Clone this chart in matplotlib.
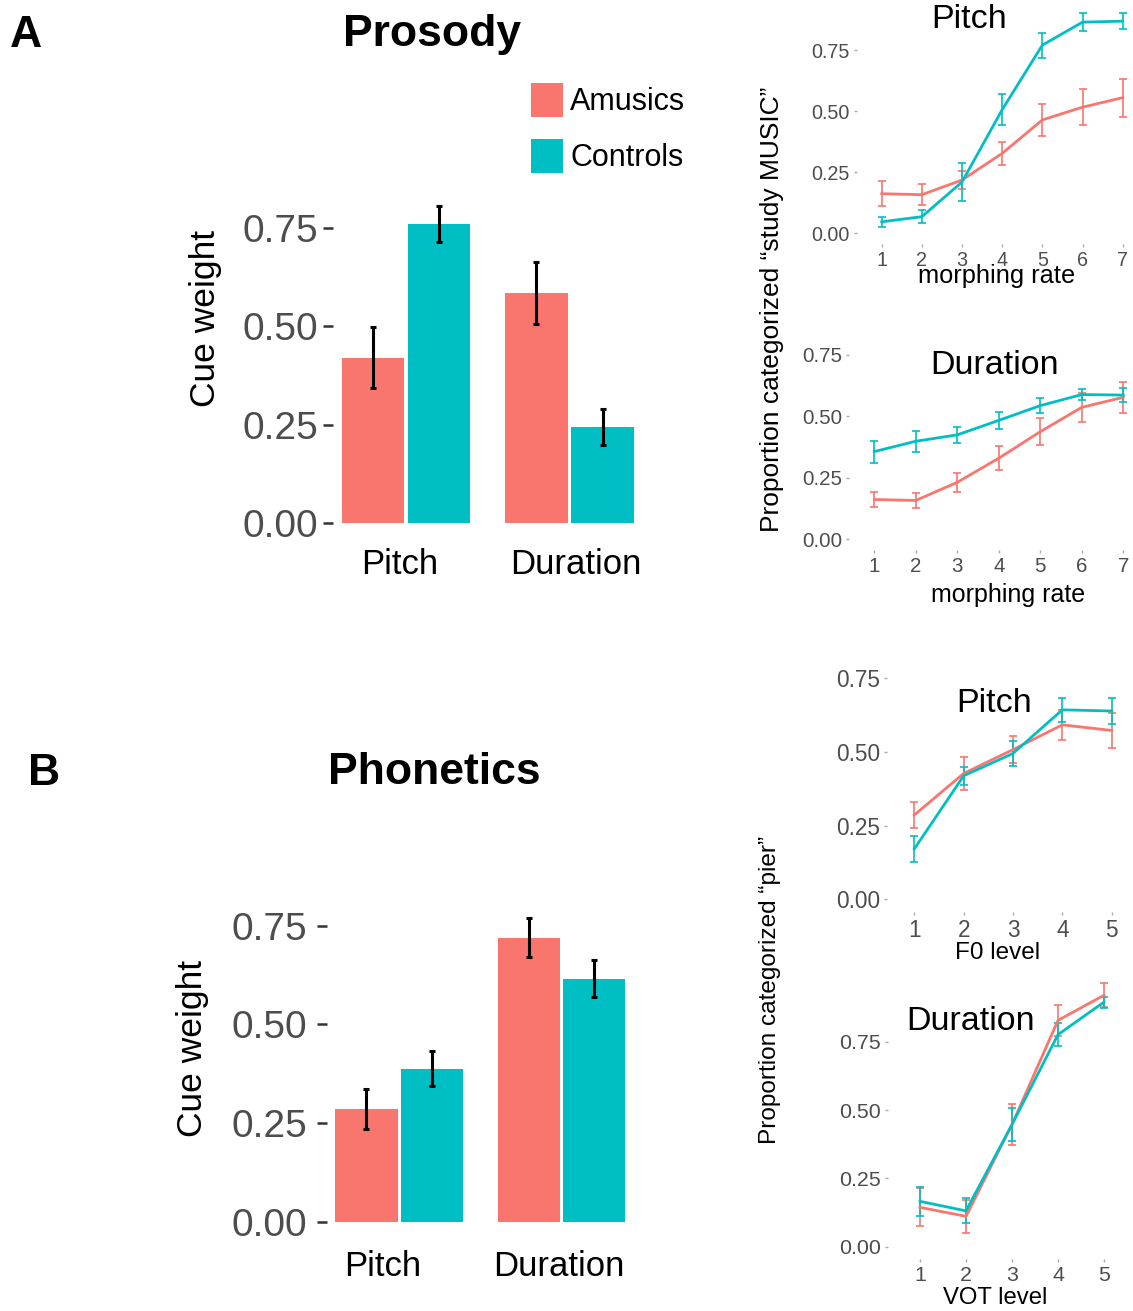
import numpy as np
import matplotlib.pyplot as plt

plt.rcParams['font.family'] = ['Liberation Sans', 'DejaVu Sans']

W, H = 1133, 1311
RED = '#F8766D'
TEAL = '#00BFC4'
GREY = '#4D4D4D'

groups = ['Amusics', 'Controls']
cues = ['Pitch', 'Duration']
ticks = [0.0, 0.25, 0.5, 0.75]
tick_labels = ['0.00', '0.25', '0.50', '0.75']

# bar charts: cue weights (Pitch, Duration), mean and half error bar
pros_amus = [0.420, 0.585]
pros_amus_se = [0.078, 0.078]
pros_ctrl = [0.760, 0.245]
pros_ctrl_se = [0.045, 0.046]

phon_amus = [0.285, 0.720]
phon_amus_se = [0.050, 0.050]
phon_ctrl = [0.388, 0.616]
phon_ctrl_se = [0.045, 0.046]

# categorisation curves
morph = [1, 2, 3, 4, 5, 6, 7]
ap_amus = [0.162, 0.158, 0.218, 0.327, 0.464, 0.516, 0.555]
ap_amus_se = [0.050, 0.043, 0.035, 0.048, 0.067, 0.073, 0.078]
ap_ctrl = [0.047, 0.068, 0.210, 0.506, 0.770, 0.864, 0.868]
ap_ctrl_se = [0.020, 0.027, 0.078, 0.063, 0.051, 0.037, 0.034]

ad_amus = [0.162, 0.158, 0.232, 0.330, 0.438, 0.537, 0.578]
ad_amus_se = [0.032, 0.032, 0.038, 0.048, 0.054, 0.058, 0.063]
ad_ctrl = [0.357, 0.399, 0.425, 0.484, 0.544, 0.589, 0.587]
ad_ctrl_se = [0.045, 0.042, 0.034, 0.035, 0.031, 0.022, 0.027]

levels = [1, 2, 3, 4, 5]
bp_amus = [0.286, 0.427, 0.508, 0.592, 0.573]
bp_amus_se = [0.045, 0.056, 0.046, 0.051, 0.058]
bp_ctrl = [0.171, 0.419, 0.495, 0.643, 0.639]
bp_ctrl_se = [0.043, 0.031, 0.043, 0.040, 0.045]

bd_amus = [0.144, 0.111, 0.447, 0.828, 0.920]
bd_amus_se = [0.069, 0.060, 0.075, 0.057, 0.044]
bd_ctrl = [0.166, 0.131, 0.447, 0.776, 0.895]
bd_ctrl_se = [0.054, 0.046, 0.059, 0.042, 0.020]


def add_ax(fig, box, xref, yref):
    # box = (left, top, right, bottom) in pixels, refs = (px_a, val_a, px_b, val_b)
    left, top, right, bottom = box
    ax = fig.add_axes([left / W, 1 - bottom / H, (right - left) / W, (bottom - top) / H])
    def lin(ref, p):
        pa, va, pb, vb = ref
        return va + (p - pa) * (vb - va) / (pb - pa)
    ax.set_xlim(lin(xref, left), lin(xref, right))
    ax.set_ylim(lin(yref, bottom), lin(yref, top))
    for s in ax.spines.values():
        s.set_visible(False)
    return ax


def ftext(fig, x, y, s, **kw):
    fig.text(x / W, 1 - y / H, s, **kw)


def bar_panel(ax, amus, amus_se, ctrl, ctrl_se, label_x, xpad, ypad):
    x = np.arange(len(cues))
    off, w = 0.2025, 0.3835
    b1 = ax.bar(x - off, amus, w, color=RED, label=groups[0])
    b2 = ax.bar(x + off, ctrl, w, color=TEAL, label=groups[1])
    ax.errorbar(x - off, amus, yerr=amus_se, fmt='none', ecolor='black',
                elinewidth=2.2, capsize=2, capthick=2.2)
    ax.errorbar(x + off, ctrl, yerr=ctrl_se, fmt='none', ecolor='black',
                elinewidth=2.2, capsize=2, capthick=2.2)
    ax.set_yticks(ticks, tick_labels)
    # the category labels sit slightly off the bar-pair centres in the original
    ax.set_xticks(label_x, cues)
    ax.tick_params(axis='y', labelsize=28, labelcolor=GREY, length=7,
                   width=1.8, color='#333333', pad=ypad)
    ax.tick_params(axis='x', labelsize=25, labelcolor='black', length=0, pad=xpad)
    return b1, b2


def line_panel(ax, x, amus, amus_se, ctrl, ctrl_se, fs):
    for vals, se, c in [(amus, amus_se, RED), (ctrl, ctrl_se, TEAL)]:
        ax.errorbar(x, vals, yerr=se, color=c, lw=2.0, elinewidth=1.2,
                    capsize=3, capthick=1.2)
    ax.set_xticks(x)
    ax.set_yticks(ticks, tick_labels)
    ax.tick_params(labelsize=fs, labelcolor=GREY, length=2, width=1,
                   color='#AAAAAA', pad=3)


fig = plt.figure(figsize=(W / 100, H / 100), dpi=100)

# ---- A: prosody
ax = add_ax(fig, (333, 190, 645, 523), (406, 0, 569.5, 1), (523, 0, 228, 0.75))
bars = bar_panel(ax, pros_amus, pros_amus_se, pros_ctrl, pros_ctrl_se,
                 [-0.037, 1.038], 18, 3.5)
fig.legend(bars, groups, loc='upper left', bbox_to_anchor=(531 / W, 1 - 83 / H),
           frameon=False, fontsize=22, handlelength=1.05, handleheight=1.35,
           labelspacing=0.7, handletextpad=0.23, borderpad=0, borderaxespad=0)

ax = add_ax(fig, (857, 3, 1133, 244), (881.7, 1, 1122.7, 7), (233.3, 0, 50, 0.75))
line_panel(ax, morph, ap_amus, ap_amus_se, ap_ctrl, ap_ctrl_se, 14.2)

ax = add_ax(fig, (849, 300, 1133, 550), (874.3, 1, 1123.3, 7), (539.3, 0, 355, 0.75))
line_panel(ax, morph, ad_amus, ad_amus_se, ad_ctrl, ad_ctrl_se, 14.8)

# ---- B: phonetics
ax = add_ax(fig, (327, 890, 640, 1221.7), (399.3, 0, 561.5, 1), (1221.7, 0, 925.7, 0.75))
bar_panel(ax, phon_amus, phon_amus_se, phon_ctrl, phon_ctrl_se,
          [-0.104, 0.982], 20.5, 7)

ax = add_ax(fig, (887, 640, 1133, 912), (914.3, 1, 1111.7, 5), (899.3, 0, 678.3, 0.75))
line_panel(ax, levels, bp_amus, bp_amus_se, bp_ctrl, bp_ctrl_se, 16.3)

ax = add_ax(fig, (888, 975, 1133, 1259), (920, 1, 1104, 5), (1246.7, 0, 1041.7, 0.75))
line_panel(ax, levels, bd_amus, bd_amus_se, bd_ctrl, bd_ctrl_se, 15.4)

# ---- texts
ftext(fig, 10, 47, 'A', fontsize=32, fontweight='bold', va='baseline', ha='left')
ftext(fig, 28, 785, 'B', fontsize=32, fontweight='bold', va='baseline', ha='left')
ftext(fig, 432, 46, 'Prosody', fontsize=32, fontweight='bold', va='baseline', ha='center')
ftext(fig, 434, 784, 'Phonetics', fontsize=32, fontweight='bold', va='baseline', ha='center')

ftext(fig, 205, 318, 'Cue weight', fontsize=25.5, rotation=90, ha='center', va='center')
ftext(fig, 192, 1048, 'Cue weight', fontsize=25.5, rotation=90, ha='center', va='center')
ftext(fig, 772, 309, 'Proportion categorized \u201cstudy MUSIC\u201d', fontsize=19,
      rotation=90, ha='center', va='center')
ftext(fig, 770, 990, 'Proportion categorized \u201cpier\u201d', fontsize=17.6,
      rotation=90, ha='center', va='center')

ftext(fig, 969, 19, 'Pitch', fontsize=24.5, ha='center', va='center')
ftext(fig, 995, 365, 'Duration', fontsize=24.5, ha='center', va='center')
ftext(fig, 994, 703, 'Pitch', fontsize=24.5, ha='center', va='center')
ftext(fig, 971, 1021, 'Duration', fontsize=24.5, ha='center', va='center')

ftext(fig, 997, 276, 'morphing rate', fontsize=18.3, ha='center', va='center')
ftext(fig, 1008, 595, 'morphing rate', fontsize=18, ha='center', va='center')
ftext(fig, 998, 953, 'F0 level', fontsize=17.5, ha='center', va='center')
ftext(fig, 995, 1298, 'VOT level', fontsize=17.2, ha='center', va='center')

fig.savefig('out.png', dpi=100)
